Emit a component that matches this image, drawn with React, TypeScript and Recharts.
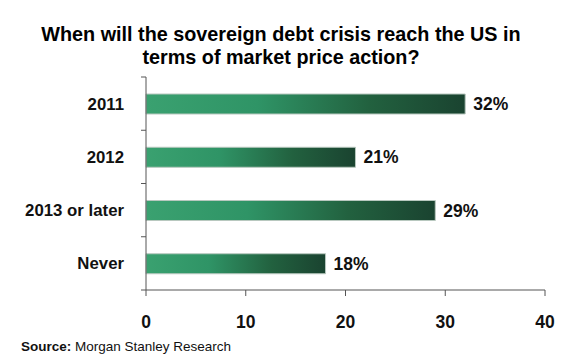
import React from "react";
import { BarChart, Bar, XAxis, YAxis, LabelList } from "recharts";

const categories = ["2011", "2012", "2013 or later", "Never"];
const shares = [32, 21, 29, 18];
const xTicks = [0, 10, 20, 30, 40];

const data = categories.map((name, i) => ({ name, value: shares[i] }));

const FONT = "'Liberation Sans', Arial, Helvetica, sans-serif";
const AXIS = "#555555";

const CategoryTick = (props: any) => {
  const { x, y, payload, index } = props;
  const half = payload && payload.offset ? payload.offset : 26.5;
  const last = index === categories.length - 1;
  return (
    <g>
      <line x1={x + 3} x2={x + 8} y1={y - half} y2={y - half} stroke={AXIS} />
      {last && <line x1={x + 3} x2={x + 8} y1={y + half} y2={y + half} stroke={AXIS} />}
      <text
        x={x - 14}
        y={y}
        dy="0.35em"
        textAnchor="end"
        fontFamily={FONT}
        fontWeight="bold"
        fontSize={16.8}
        fill="#111"
      >
        {payload.value}
      </text>
    </g>
  );
};

const App: React.FC = () => {
  return (
    <div style={{ position: "absolute", left: 0, top: 0, width: 581, height: 356, background: "#fff", fontFamily: FONT }}>
      <div
        style={{
          position: "absolute",
          left: 0,
          top: 23,
          width: 562,
          textAlign: "center",
          fontWeight: "bold",
          fontSize: 19.8,
          lineHeight: "23px",
          color: "#000",
        }}
      >
        When will the sovereign debt crisis reach the US in
        <br />
        terms of market price action?
      </div>
      <BarChart
        width={581}
        height={356}
        data={data}
        layout="vertical"
        margin={{ top: 77, right: 36, bottom: 0, left: 0 }}
      >
        <defs>
          <linearGradient id="barGrad" x1="0" y1="0" x2="1" y2="0">
            <stop offset="0%" stopColor="#3aa170" />
            <stop offset="35%" stopColor="#2f9466" />
            <stop offset="70%" stopColor="#22613f" />
            <stop offset="100%" stopColor="#1a4330" />
          </linearGradient>
        </defs>
        <XAxis
          type="number"
          domain={[0, 40]}
          ticks={xTicks}
          height={66}
          stroke={AXIS}
          tickSize={6}
          tickMargin={20}
          tick={{ fontFamily: FONT, fontWeight: "bold", fontSize: 17.5, fill: "#111" }}
        />
        <YAxis
          type="category"
          dataKey="name"
          width={146}
          stroke={AXIS}
          tickLine={false}
          tick={<CategoryTick />}
          interval={0}
        />
        <Bar dataKey="value" barSize={20} fill="url(#barGrad)" stroke="#b8c8bf" strokeWidth={1} isAnimationActive={false}>
          <LabelList
            dataKey="value"
            position="right"
            offset={8}
            formatter={(v: any) => `${v}%`}
            style={{ fontFamily: FONT, fontWeight: "bold", fontSize: 17.5, fill: "#111" }}
          />
        </Bar>
      </BarChart>
      <div style={{ position: "absolute", left: 21, top: 339, fontSize: 13.5, color: "#111" }}>
        <b>Source:</b> Morgan Stanley Research
      </div>
    </div>
  );
};

export default App;
